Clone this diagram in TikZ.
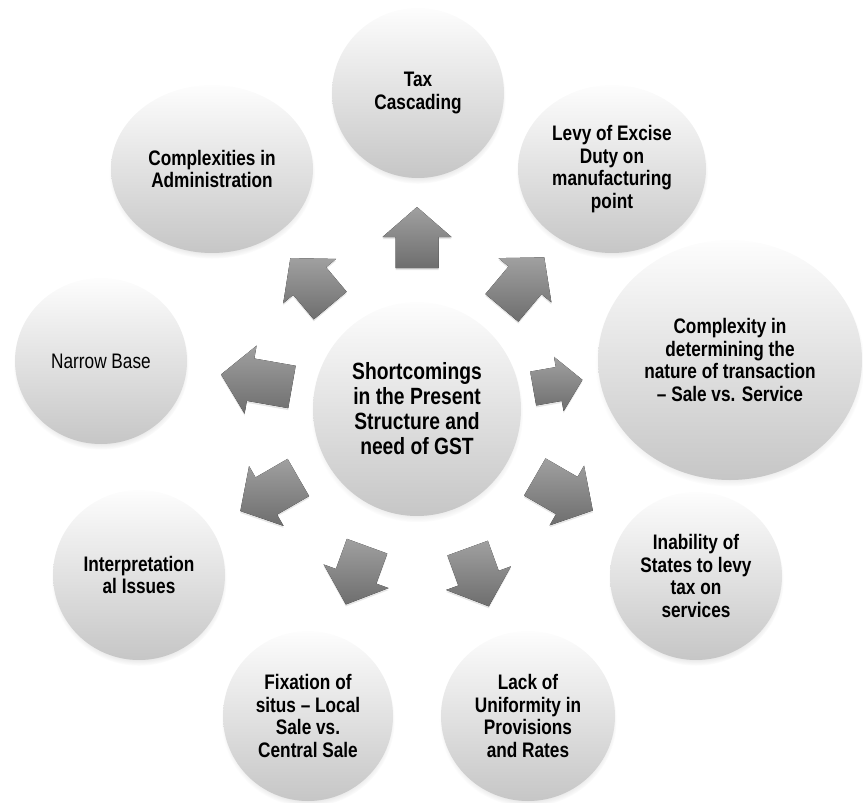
\documentclass[tikz,border=0pt]{standalone}
\usepackage{fontspec}
\setmainfont{Liberation Sans}[FakeStretch=0.82]
\usepackage{tikz}
\usetikzlibrary{shapes.geometric, shadows, calc}
\definecolor{bubbletop}{RGB}{253,253,253}
\definecolor{bubblebot}{RGB}{198,198,198}
\definecolor{arrowtop}{RGB}{160,160,160}
\definecolor{arrowbot}{RGB}{110,110,110}

\begin{document}
\begin{tikzpicture}[x=1pt, y=1pt,
    bubble/.style={ellipse, top color=bubbletop, bottom color=bubblebot, inner sep=0pt, align=center,
        font=\fontsize{21}{22.5}\selectfont\bfseries,
        circular drop shadow={shadow xshift=0pt, shadow yshift=-4pt, shadow scale=1.02, opacity=0.35}},
    hub/.style={bubble, font=\fontsize{23.5}{25}\selectfont\bfseries},
    plainbubble/.style={bubble, font=\fontsize{21}{22.5}\selectfont},
    gapshape/.style={top color=arrowtop, bottom color=arrowbot}]
    \useasboundingbox (0,0) rectangle (863,-803);
    % centre
    \node[hub, minimum width=208, minimum height=214] (core) at (417,-409) {Shortcomings\\in the Present\\Structure and\\need of GST};
    % ring of causes
    \node[bubble, minimum width=172, minimum height=170] (tax) at (418,-93) {Tax\\Cascading};
    \node[bubble, minimum width=188, minimum height=168] (levy) at (612,-169) {Levy of Excise\\Duty on\\manufacturing\\point};
    \node[bubble, minimum width=264, minimum height=240] (nature) at (730,-360) {Complexity in\\determining the\\nature of transaction\\– Sale vs. Service};
    \node[bubble, minimum width=172, minimum height=168] (states) at (696,-576) {Inability of\\States to levy\\tax on\\services};
    \node[bubble, minimum width=174, minimum height=170] (rates) at (528,-716) {Lack of\\Uniformity in\\Provisions\\and Rates};
    \node[bubble, minimum width=170, minimum height=170] (situs) at (308,-716) {Fixation of\\situs – Local\\Sale vs.\\Central Sale};
    \node[bubble, minimum width=172, minimum height=170] (interp) at (139,-575) {Interpretation\\al Issues};
    \node[plainbubble, minimum width=172, minimum height=166] (base) at (101,-361) {Narrow Base};
    \node[bubble, minimum width=202, minimum height=168] (admin) at (212,-169) {Complexities in\\Administration};
    % block arrows out of the centre
    \foreach \ang/\rin/\rout/\sc in {90/141/202/1, 50/132/198/1, 10/118/168/0.8, -30/136/203/1,
        -70/148/210/1, -110/146/208/1, -150/137/204/1, 170/127/199/1, 130/135/197/1}
    {
        \begin{scope}[shift={(core.center)}, rotate=\ang]
            \fill[gapshape, drop shadow={shadow xshift=0pt, shadow yshift=-2pt, opacity=0.2}]
                (\rin,{-21.5*\sc}) -- ({\rout-30*\sc},{-21.5*\sc}) -- ({\rout-30*\sc},{-34.5*\sc})
                -- (\rout,0) -- ({\rout-30*\sc},{34.5*\sc}) -- ({\rout-30*\sc},{21.5*\sc})
                -- (\rin,{21.5*\sc}) -- cycle;
        \end{scope}
    }
\end{tikzpicture}
\end{document}
